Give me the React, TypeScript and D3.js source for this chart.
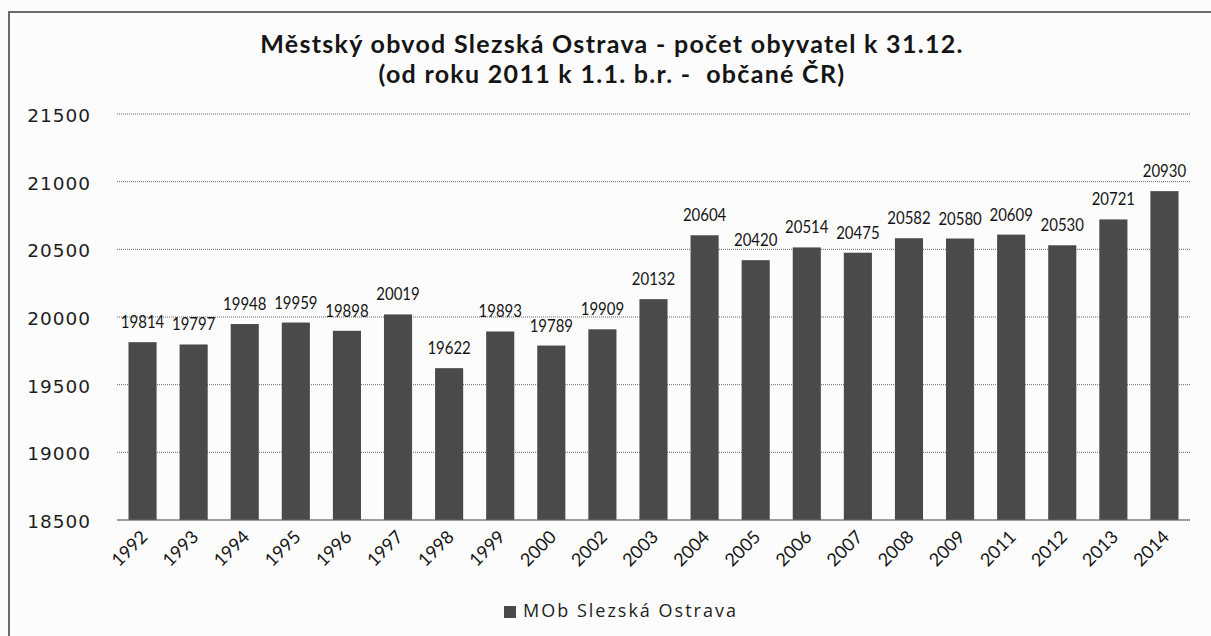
import React from "react";
import * as d3 from "d3";

const years = ["1992","1993","1994","1995","1996","1997","1998","1999","2000","2002","2003","2004","2005","2006","2007","2008","2009","2011","2012","2013","2014"];
const population = [19814,19797,19948,19959,19898,20019,19622,19893,19789,19909,20132,20604,20420,20514,20475,20582,20580,20609,20530,20721,20930];
const yTicks = [18500,19000,19500,20000,20500,21000,21500];
const titleLines = ["Městský obvod Slezská Ostrava - počet obyvatel k 31.12.", "(od roku 2011 k 1.1. b.r. -  občané ČR)"];
const seriesName = "MOb Slezská Ostrava";

export default function App() {
  const W = 1211, H = 636;
  const left = 117, right = 1190, top = 114, bottom = 520;
  const x = d3.scaleBand().domain(years).range([left, right]).paddingInner(0.45).paddingOuter(0.225);
  const y = d3.scaleLinear().domain([18500, 21500]).range([bottom, top]);
  const font = "Lato, 'Open Sans', sans-serif";
  return (
    <svg width={W} height={H} style={{ position: "absolute", left: 0, top: 0 }}>
      <rect x={0} y={0} width={W} height={H} fill="#fcfcfc" />
      <rect x={9} y={12} width={W + 20} height={H + 20} fill="none" stroke="#6a6a6a" strokeWidth={2} />
      {titleLines.map((t, i) => (
        <text key={i} x={612} y={53 + i * 30} textAnchor="middle" fontFamily={font} fontWeight="bold" fontSize={25} fill="#151515" style={{ letterSpacing: "1.3px", whiteSpace: "pre" }}>{t}</text>
      ))}
      {yTicks.map(v => (
        <g key={v}>
          <line x1={left} x2={right} y1={y(v)} y2={y(v)} stroke="#666" strokeWidth={1} strokeDasharray="1 1" />
          <text x={91} y={y(v) + 8} textAnchor="end" fontFamily="'DejaVu Sans', Verdana, sans-serif" fontSize={18.5} fill="#1e1e1e" style={{ letterSpacing: "1px" }}>{v}</text>
        </g>
      ))}
      {years.map((yr, i) => {
        const v = population[i];
        const bx = x(yr)!;
        const cx = bx + x.bandwidth() / 2;
        return (
          <g key={yr}>
            <rect x={bx} y={y(v)} width={x.bandwidth()} height={bottom - y(v)} fill="#4a4a4a" />
            <text transform={`translate(${cx},${y(v) - 14}) scale(0.88,1)`} textAnchor="middle" fontFamily={font} fontSize={17} fill="#151515">{v}</text>
            <text transform={`translate(${cx + 6},${bottom + 18}) rotate(-45)`} textAnchor="end" fontFamily={font} fontSize={18} fill="#151515">{yr}</text>
          </g>
        );
      })}
      <line x1={left} x2={right} y1={bottom} y2={bottom} stroke="#666" strokeWidth={1} />
      <rect x={504} y={606} width={12} height={12} fill="#4a4a4a" />
      <text x={523} y={617} fontFamily="'Open Sans', sans-serif" fontSize={18} fill="#1e1e1e" style={{ letterSpacing: "2px" }}>{seriesName}</text>
    </svg>
  );
}
